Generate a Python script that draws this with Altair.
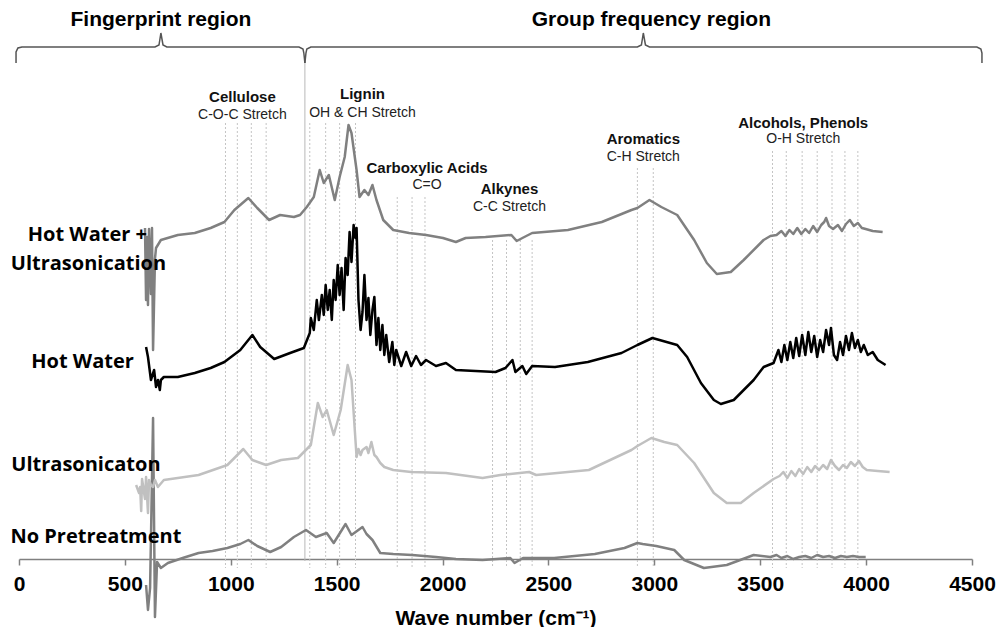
import altair as alt
import pandas as pd

# ---------------- spectra (wave number cm-1, offset intensity a.u.) ----------------
wn_np = [600, 609, 619, 633, 642, 652, 670, 703, 773, 848, 914, 984, 1045, 1083, 1125, 1186, 1238, 1298, 1355, 1402,
         1453, 1486, 1542, 1570, 1622, 1641, 1669, 1706, 1767, 1856, 1969, 2063, 2189, 2320, 2340, 2380, 2527, 2719, 2859, 2920,
         2945, 3009, 3094, 3141, 3234, 3342, 3469, 3548, 3577, 3600, 3628, 3656, 3684, 3713, 3741, 3769, 3797, 3825, 3853, 3881,
         3909, 3938, 3966, 3998]
ab_np = [-26, -51, -29, 141, -58, -3, -9, -4, 1, 6, 8, 11, 15, 19, 13, 7, 12, 22, 29, 22,
         26, 16, 35, 24, 32, 25, 19, 6, 5, 4, 2, 0, -1, 1, -4, 1, 1, 5, 11, 16,
         15, 13, 9, -1, -9, -6, 4, 2, 4, 1, 3, 0, 2, 3, 1, 4, 2, 3, 1, 3,
         2, 3, 2, 2]

wn_hwus = [595, 600, 605, 609, 614, 623, 628, 633, 642, 647, 670, 750, 830, 905, 970, 1017, 1083, 1125, 1181, 1233,
           1298, 1327, 1359, 1392, 1420, 1439, 1463, 1491, 1514, 1538, 1556, 1570, 1594, 1608, 1631, 1650, 1669, 1688, 1720, 1767,
           1842, 1922, 2002, 2063, 2109, 2203, 2325, 2350, 2377, 2423, 2592, 2752, 2892, 2920, 2977, 3033, 3108, 3188, 3248, 3295,
           3361, 3422, 3516, 3548, 3577, 3600, 3619, 3638, 3656, 3675, 3694, 3713, 3731, 3750, 3769, 3788, 3802, 3811, 3825, 3844,
           3867, 3886, 3905, 3923, 3942, 3961, 3980, 3998, 4031, 4078]
ab_hwus = [331, 259, 322, 254, 330, 265, 331, 209, 300, 311, 319, 324, 326, 331, 337, 349, 361, 351, 339, 344,
           342, 344, 352, 362, 389, 376, 384, 359, 382, 402, 434, 426, 389, 362, 369, 364, 374, 359, 339, 329,
           326, 324, 321, 317, 321, 322, 324, 318, 321, 326, 329, 337, 349, 351, 359, 352, 344, 319, 296, 285,
           287, 299, 319, 323, 324, 328, 323, 329, 325, 331, 325, 330, 326, 333, 327, 334, 337, 341, 333, 330,
           334, 328, 335, 339, 333, 336, 331, 330, 328, 327]

wn_hw = [600, 609, 623, 638, 647, 656, 665, 670, 684, 750, 830, 905, 970, 1045, 1102, 1139, 1205, 1280, 1345, 1373,
         1378, 1392, 1406, 1416, 1430, 1439, 1448, 1458, 1467, 1477, 1486, 1495, 1505, 1514, 1523, 1533, 1542, 1552, 1561, 1570,
         1580, 1589, 1594, 1603, 1613, 1622, 1631, 1641, 1650, 1659, 1669, 1678, 1688, 1697, 1706, 1716, 1725, 1734, 1748, 1763,
         1772, 1781, 1805, 1828, 1852, 1875, 1898, 1922, 1969, 2016, 2063, 2156, 2250, 2297, 2330, 2344, 2377, 2395, 2423, 2531,
         2686, 2845, 2920, 2991, 3108, 3155, 3220, 3281, 3314, 3375, 3469, 3516, 3563,
         3586, 3600, 3614, 3628, 3642, 3656, 3670, 3684, 3698, 3713, 3727, 3741, 3755, 3769, 3783, 3797, 3811, 3825, 3834, 3848,
         3863, 3877, 3891, 3905, 3919, 3933, 3947, 3961, 3975, 3989, 4008, 4031, 4055, 4092]
ab_hw = [212, 202, 179, 189, 172, 179, 169, 179, 182, 182, 186, 191, 197, 209, 224, 212, 200, 206, 211, 226,
         241, 229, 259, 239, 264, 244, 274, 249, 269, 239, 279, 259, 294, 264, 291, 249, 301, 284, 327, 297,
         334, 321, 331, 259, 229, 247, 284, 239, 261, 224, 249, 262, 214, 241, 209, 234, 204, 224, 197, 217,
         194, 209, 193, 207, 193, 203, 194, 199, 193, 196, 189, 188, 187, 191, 199, 187, 193, 185, 193, 192,
         197, 206, 214, 221, 214, 202, 176, 159, 155, 159, 179, 192, 196,
         209, 197, 214, 199, 217, 201, 221, 203, 224, 204, 227, 207, 223, 202, 219, 207, 229, 214, 231, 204,
         199, 217, 204, 223, 209, 226, 211, 219, 207, 214, 204, 207, 199, 194]

wn_us = [553, 567, 572, 577, 581, 595, 600, 609, 614, 623, 633, 642, 656, 684, 848, 984, 1017, 1059, 1102, 1167,
         1238, 1317, 1378, 1411, 1434, 1453, 1486, 1519, 1552, 1570, 1594, 1603, 1613, 1622, 1641, 1650, 1664, 1678, 1688, 1706,
         1725, 1767, 1852, 2016, 2189, 2273, 2409, 2442, 2691, 2892, 2920, 2986, 3047, 3108, 3188, 3281, 3342, 3408, 3469, 3563,
         3591, 3609, 3628, 3647, 3666, 3684, 3703, 3722, 3741, 3759, 3778, 3797, 3816, 3834, 3853, 3872, 3891, 3909, 3928, 3947,
         3966, 3984, 4003, 4055, 4111]
ab_us = [74, 66, 72, 48, 80, 60, 82, 46, 79, 74, 72, 79, 72, 79, 84, 94, 101, 110, 99, 94,
         99, 101, 114, 156, 142, 149, 124, 149, 194, 179, 102, 110, 104, 109, 112, 106, 117, 104, 102, 96,
         92, 89, 87, 86, 81, 84, 87, 84, 89, 109, 113, 121, 117, 114, 96, 66, 56, 56, 66, 80,
         83, 87, 81, 88, 83, 90, 85, 92, 87, 93, 89, 94, 90, 99, 93, 89, 94, 91, 97, 93,
         98, 92, 89, 88, 87]

series_names = ["Hot Water + Ultrasonication", "Hot Water", "Ultrasonicaton", "No Pretreatment"]
series_colors = ["#808080", "#000000", "#c0c0c0", "#808080"]

# ---------------- band guide lines (wave number, top, bottom) ----------------
guide_wn = [975, 1031, 1097, 1167, 1373, 1448, 1514, 1589, 1786, 1856, 1917,
            2236, 2302, 2367, 2423, 2920, 2995, 3558, 3623, 3698, 3769, 3839, 3900, 3961]
guide_top = [436, 436, 436, 436, 436, 436, 436, 436, 362, 362, 362,
             319, 319, 319, 319, 391, 391, 408, 408, 408, 408, 408, 408, 408]
guide_bottom = [-9] * 24

divider_wn = [1350]
divider_top = [496]
divider_bottom = [-2]

# ---------------- braces ----------------
brace_id = ["a"] * 13 + ["b"] * 13
brace_wn = [-14, -14, -5, 14, 642, 661, 670, 680, 698, 1322, 1341, 1345, 1350,
            1350, 1355, 1359, 1378, 2920, 2939, 2948, 2958, 2977, 4523, 4542, 4547, 4547]
brace_y = [496, 507, 511, 512, 512, 514, 526, 514, 512, 512, 510, 506, 496,
           496, 506, 510, 512, 512, 514, 526, 514, 512, 512, 510, 506, 496]

# ---------------- text ----------------
region_text = ["Fingerprint region", "Group frequency region"]
region_x = [670, 2986]
region_y = [539, 539]

sample_text = ["Hot Water +", "Ultrasonication", "Hot Water", "Ultrasonicaton", "No Pretreatment"]
sample_x = [323, 328, 300, 316, 363]
sample_y = [324, 295, 197, 94, 22]

band_text = ["Cellulose", "Lignin", "Carboxylic Acids", "Alkynes", "Aromatics", "Alcohols, Phenols"]
band_x = [1055, 1622, 1927, 2316, 2948, 3703]
band_y = [462, 465, 391, 370, 420, 436]

bond_text = ["C-O-C Stretch", "OH & CH Stretch", "C=O", "C-C Stretch", "C-H Stretch", "O-H Stretch"]
bond_x = [1055, 1622, 1927, 2316, 2948, 3703]
bond_y = [444, 446, 374, 352, 402, 420]

# ---------------- build ----------------
frames = []
for name, wn, ab in [(series_names[3], wn_np, ab_np), (series_names[2], wn_us, ab_us),
                     (series_names[0], wn_hwus, ab_hwus), (series_names[1], wn_hw, ab_hw)]:
    frames.append(pd.DataFrame({"x": wn, "y": ab, "series": name}))
spectra = pd.concat(frames, ignore_index=True)

xs = alt.Scale(domain=[0, 4500], nice=False, zero=False)
ys = alt.Scale(domain=[0, 550], nice=False, zero=False)
xaxis = alt.Axis(values=list(range(0, 4501, 500)), title="Wave number (cm⁻¹)", grid=False,
                 domainColor="#808080", domainWidth=1.5, tickColor="#808080", tickWidth=1.5, tickSize=6,
                 labelFont="Liberation Sans", labelFontSize=21, labelFontWeight="bold", labelColor="#000000",
                 labelPadding=8, labelFlush=False, format="d",
                 titleFont="Liberation Sans", titleFontSize=21, titleFontWeight="bold", titleColor="#000000",
                 titlePadding=13)


def X(field="x"):
    return alt.X(f"{field}:Q", scale=xs, axis=xaxis)


def Y(field="y"):
    return alt.Y(f"{field}:Q", scale=ys, axis=None)


guides = alt.Chart(pd.DataFrame({"x": guide_wn, "y": guide_top, "y2": guide_bottom})).mark_rule(
    color="#c4c4c4", strokeWidth=1, strokeDash=[2, 2]).encode(x=X(), y=Y(), y2="y2:Q")

divider = alt.Chart(pd.DataFrame({"x": divider_wn, "y": divider_top, "y2": divider_bottom})).mark_rule(
    color="#b8b8b8", strokeWidth=1).encode(x=X(), y=Y(), y2="y2:Q")

lines = alt.Chart(spectra).mark_line(strokeWidth=2.5, strokeJoin="round").encode(
    x=X(), y=Y(),
    color=alt.Color("series:N", scale=alt.Scale(domain=series_names, range=series_colors), legend=None),
    detail="series:N")

braces = alt.Chart(pd.DataFrame({"x": brace_wn, "y": brace_y, "b": brace_id,
                                 "i": list(range(len(brace_wn)))})).mark_line(
    color="#555555", strokeWidth=1.5).encode(x=X(), y=Y(), detail="b:N", order="i:Q")

regions = alt.Chart(pd.DataFrame({"x": region_x, "y": region_y, "t": region_text})).mark_text(
    font="Liberation Sans", fontSize=21, fontWeight="bold", color="#000000", baseline="middle").encode(
    x=X(), y=Y(), text="t:N")

samples = alt.Chart(pd.DataFrame({"x": sample_x, "y": sample_y, "t": sample_text})).mark_text(
    font="Open Sans", fontSize=20, fontWeight="bold", color="#000000", baseline="middle").encode(
    x=X(), y=Y(), text="t:N")

bands = alt.Chart(pd.DataFrame({"x": band_x, "y": band_y, "t": band_text})).mark_text(
    font="Liberation Sans", fontSize=15, fontWeight="bold", color="#111111", baseline="middle").encode(
    x=X(), y=Y(), text="t:N")

bonds = alt.Chart(pd.DataFrame({"x": bond_x, "y": bond_y, "t": bond_text})).mark_text(
    font="Liberation Sans", fontSize=14, color="#222222", baseline="middle").encode(
    x=X(), y=Y(), text="t:N")

chart = alt.layer(guides, divider, lines, braces, regions, samples, bands, bonds).properties(
    width=953, height=550,
    autosize=alt.AutoSizeParams(type="none"),
    padding={"left": 11, "top": 1, "right": 25, "bottom": 68},
    background="white",
).configure_view(stroke=None)

chart.save("out.html", embed_options={"renderer": "svg", "actions": False})
